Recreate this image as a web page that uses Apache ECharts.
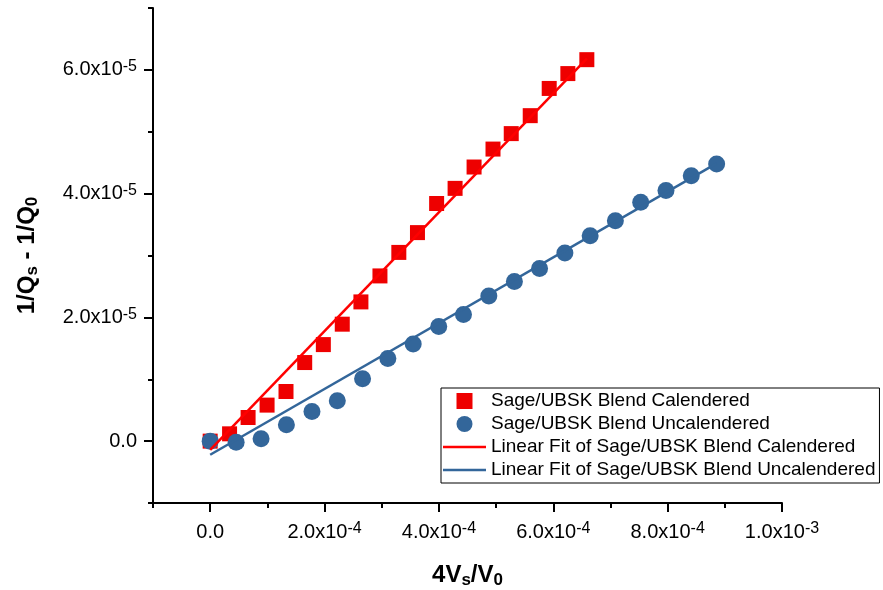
<!DOCTYPE html>
<html>
<head>
<meta charset="utf-8">
<script src="https://cdn.jsdelivr.net/npm/echarts@6/dist/echarts.min.js"></script>
<style>
  html, body { margin: 0; padding: 0; background: #fff; }
  #chart { width: 883px; height: 590px; }
</style>
</head>
<body>
<div id="chart"></div>
<script>
// Measured points: 4Vs/V0 against 1/Qs - 1/Q0
const calX = [0, 3.39e-5, 6.63e-5, 9.95e-5, 1.326e-4, 1.653e-4, 1.979e-4, 2.31e-4, 2.636e-4, 2.969e-4,
  3.299e-4, 3.625e-4, 3.96e-4, 4.283e-4, 4.615e-4, 4.946e-4, 5.265e-4, 5.597e-4, 5.929e-4, 6.255e-4, 6.587e-4];
const calY = [0, 1.18e-6, 3.82e-6, 5.82e-6, 8.02e-6, 12.7e-6, 15.6e-6, 18.9e-6, 22.5e-6, 26.7e-6,
  30.5e-6, 33.7e-6, 38.4e-6, 40.85e-6, 44.3e-6, 47.2e-6, 49.7e-6, 52.6e-6, 57.0e-6, 59.4e-6, 61.65e-6];

const uncalX = [0, 4.54e-5, 8.9e-5, 1.333e-4, 1.78e-4, 2.223e-4, 2.665e-4, 3.107e-4, 3.55e-4, 3.997e-4,
  4.43e-4, 4.873e-4, 5.32e-4, 5.76e-4, 6.203e-4, 6.645e-4, 7.086e-4, 7.529e-4, 7.971e-4, 8.413e-4, 8.857e-4];
const uncalY = [0, -0.2e-6, 0.37e-6, 2.64e-6, 4.79e-6, 6.52e-6, 10.07e-6, 13.36e-6, 15.68e-6, 18.53e-6,
  20.45e-6, 23.45e-6, 25.8e-6, 27.9e-6, 30.4e-6, 33.2e-6, 35.6e-6, 38.6e-6, 40.5e-6, 42.9e-6, 44.8e-6];

// Linear fit end points (x from first to last measured point)
const calFitX = [0, 6.587e-4];
const calFitY = [-1.4e-6, 61.8e-6];
const uncalFitX = [0, 8.857e-4];
const uncalFitY = [-2.2e-6, 44.9e-6];

// Axis ticks
const xMajor = [0, 2e-4, 4e-4, 6e-4, 8e-4, 1e-3];
const xMinor = [-1e-4, 1e-4, 3e-4, 5e-4, 7e-4, 9e-4];
const yMajor = [0, 2e-5, 4e-5, 6e-5];
const yMinor = [-1e-5, 1e-5, 3e-5, 5e-5, 7e-5];

const names = [
  'Sage/UBSK Blend Calendered',
  'Sage/UBSK Blend Uncalendered',
  'Linear Fit of Sage/UBSK Blend Calendered',
  'Linear Fit of Sage/UBSK Blend Uncalendered'
];

const FONT = 'Liberation Sans, Arial, sans-serif';
const RED = '#ee0000';
const LINE_RED = '#ff0000';
const BLUE = '#33669a';

const zip = (xs, ys) => xs.map((x, i) => [x, ys[i]]);

function sciLabel(v) {
  if (Math.abs(v) < 1e-12) return '{n|0.0}';
  const exp = Math.floor(Math.log10(Math.abs(v)) + 1e-9);
  const mant = v / Math.pow(10, exp);
  return '{n|' + mant.toFixed(1) + 'x10}{e|' + exp + '}';
}

const labelRich = {
  n: { fontSize: 20, lineHeight: 22, fontFamily: FONT, color: '#000' },
  e: { fontSize: 16, lineHeight: 16, fontFamily: FONT, color: '#000', verticalAlign: 'top' }
};

const titleRich = {
  b: { fontSize: 24, fontWeight: 'bold', fontFamily: FONT, color: '#000', lineHeight: 28 },
  s: { fontSize: 17, fontWeight: 'bold', fontFamily: FONT, color: '#000', lineHeight: 24, verticalAlign: 'bottom' }
};

const axisLineStyle = { show: true, onZero: false, lineStyle: { color: '#000', width: 2 } };
const tickStyle = { color: '#000', width: 2 };

const chart = echarts.init(document.getElementById('chart'), null, { renderer: 'canvas' });

chart.setOption({
  backgroundColor: '#fff',
  animation: false,
  textStyle: { fontFamily: FONT },
  grid: { left: 153, right: 101, top: 8, bottom: 87, containLabel: false, outerBoundsMode: 'none' },
  xAxis: [
    {
      type: 'value', position: 'bottom', min: -1e-4, max: 1e-3,
      axisLine: axisLineStyle,
      axisTick: { show: true, customValues: xMajor, length: 9, lineStyle: tickStyle },
      axisLabel: { customValues: xMajor, margin: 18, formatter: sciLabel, rich: labelRich },
      splitLine: { show: false },
      name: '{b|4V}{s|s}{b|/V}{s|0}',
      nameLocation: 'middle',
      nameGap: 58,
      nameTextStyle: { rich: titleRich }
    },
    {
      type: 'value', position: 'bottom', min: -1e-4, max: 1e-3,
      axisLine: { show: false, onZero: false },
      axisTick: { show: true, customValues: xMinor, length: 5, lineStyle: tickStyle },
      axisLabel: { show: false },
      splitLine: { show: false }
    }
  ],
  yAxis: [
    {
      type: 'value', position: 'left', min: -1e-5, max: 7e-5,
      axisLine: axisLineStyle,
      axisTick: { show: true, customValues: yMajor, length: 9, lineStyle: tickStyle },
      axisLabel: { customValues: yMajor, margin: 16, formatter: sciLabel, rich: labelRich },
      splitLine: { show: false },
      name: '{b|1/Q}{s|s}{b| - 1/Q}{s|0}',
      nameLocation: 'middle',
      nameRotate: 90,
      nameGap: 112,
      nameTextStyle: { rich: titleRich }
    },
    {
      type: 'value', position: 'left', min: -1e-5, max: 7e-5,
      axisLine: { show: false, onZero: false },
      axisTick: { show: true, customValues: yMinor, length: 5, lineStyle: tickStyle },
      axisLabel: { show: false },
      splitLine: { show: false }
    }
  ],
  legend: {
    orient: 'vertical',
    left: 441, top: 388,
    padding: [3, 4, 3, 2],
    itemGap: 3,
    itemWidth: 43,
    itemHeight: 16,
    borderColor: '#000',
    borderWidth: 1,
    textStyle: { fontSize: 19, lineHeight: 20, fontFamily: FONT, color: '#000' },
    data: [
      { name: names[0], icon: 'path://M0 0H10V10H0Z', itemStyle: { color: RED } },
      { name: names[1], icon: 'circle' },
      { name: names[2], icon: 'path://M0 0H43V2.5H0Z', itemStyle: { color: LINE_RED } },
      { name: names[3], icon: 'path://M0 0H43V2.5H0Z', itemStyle: { color: BLUE } }
    ]
  },
  series: [
    {
      name: names[0], type: 'scatter', symbol: 'rect', symbolSize: 15,
      itemStyle: { color: RED, opacity: 1 }, data: zip(calX, calY), z: 2
    },
    {
      name: names[1], type: 'scatter', symbol: 'circle', symbolSize: 17,
      itemStyle: { color: BLUE, opacity: 1 }, data: zip(uncalX, uncalY), z: 3
    },
    {
      name: names[2], type: 'line', symbol: 'none',
      lineStyle: { color: LINE_RED, width: 2.5 }, itemStyle: { color: LINE_RED },
      data: zip(calFitX, calFitY), z: 4
    },
    {
      name: names[3], type: 'line', symbol: 'none',
      lineStyle: { color: BLUE, width: 2.5 }, itemStyle: { color: BLUE },
      data: zip(uncalFitX, uncalFitY), z: 4
    }
  ]
});
</script>
</body>
</html>
